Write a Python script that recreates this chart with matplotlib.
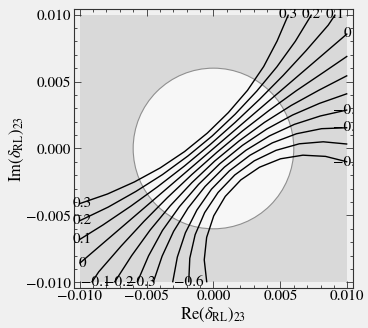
import matplotlib
matplotlib.use("Agg")
import matplotlib.pyplot as plt
from matplotlib.patches import Rectangle, Circle
from matplotlib.ticker import MultipleLocator, FuncFormatter
import matplotlib.transforms as mtransforms

# ---------------- data ----------------
levels = [0.3, 0.2, 0.1, 0.0, -0.1, -0.2, -0.3, -0.4, -0.5, -0.6, -0.7]

x_p03 = [-0.01000, -0.00792, -0.00591, -0.00398, -0.00216, -0.00046, 0.00111, 0.00254, 0.00375, 0.00475, 0.00560]
y_p03 = [-0.00412, -0.00340, -0.00250, -0.00145, -0.00023, 0.00115, 0.00268, 0.00434, 0.00612, 0.00802, 0.01000]
x_p02 = [-0.01000, -0.00787, -0.00580, -0.00381, -0.00191, -0.00009, 0.00162, 0.00323, 0.00473, 0.00611, 0.00733]
y_p02 = [-0.00540, -0.00438, -0.00321, -0.00195, -0.00056, 0.00094, 0.00256, 0.00428, 0.00609, 0.00800, 0.01000]
x_p01 = [-0.01000, -0.00827, -0.00618, -0.00415, -0.00217, -0.00025, 0.00162, 0.00344, 0.00520, 0.00691, 0.00857, 0.00910]
y_p01 = [-0.00680, -0.00572, -0.00431, -0.00284, -0.00131, 0.00029, 0.00195, 0.00367, 0.00545, 0.00730, 0.00921, 0.01000]
x_z00 = [-0.01000, 0.00000, 0.01000]
y_z00 = [-0.00858, 0.00000, 0.00858]
x_m01 = [-0.00910, -0.00857, -0.00691, -0.00520, -0.00344, -0.00162, 0.00025, 0.00217, 0.00415, 0.00618, 0.00827, 0.01000]
y_m01 = [-0.01000, -0.00921, -0.00730, -0.00545, -0.00367, -0.00195, -0.00029, 0.00131, 0.00284, 0.00431, 0.00572, 0.00690]
x_m02 = [-0.00740, -0.00611, -0.00473, -0.00323, -0.00162, 0.00009, 0.00191, 0.00381, 0.00580, 0.00787, 0.01000]
y_m02 = [-0.01000, -0.00800, -0.00609, -0.00428, -0.00256, -0.00094, 0.00056, 0.00195, 0.00321, 0.00435, 0.00545]
x_m03 = [-0.00570, -0.00485, -0.00381, -0.00254, -0.00111, 0.00046, 0.00216, 0.00398, 0.00591, 0.00792, 0.01000]
y_m03 = [-0.01000, -0.00802, -0.00612, -0.00434, -0.00268, -0.00115, 0.00023, 0.00145, 0.00250, 0.00337, 0.00410]
x_m04 = [-0.00450, -0.00384, -0.00298, -0.00190, -0.00063, 0.00082, 0.00243, 0.00418, 0.00604, 0.00799, 0.01000]
y_m04 = [-0.01000, -0.00805, -0.00619, -0.00445, -0.00284, -0.00139, -0.00013, 0.00094, 0.00180, 0.00243, 0.00288]
x_m05 = [-0.00305, -0.00270, -0.00210, -0.00124, -0.00015, 0.00119, 0.00272, 0.00440, 0.00620, 0.00808, 0.01000]
y_m05 = [-0.01000, -0.00811, -0.00630, -0.00460, -0.00304, -0.00167, -0.00051, 0.00042, 0.00110, 0.00148, 0.00155]
x_m06 = [-0.00185, -0.00177, -0.00137, -0.00066, 0.00034, 0.00159, 0.00305, 0.00467, 0.00641, 0.00820, 0.01000]
y_m06 = [-0.01000, -0.00820, -0.00644, -0.00479, -0.00329, -0.00198, -0.00092, -0.00014, 0.00035, 0.00050, 0.00033]
x_m07 = [-0.00050, -0.00069, -0.00051, 0.00002, 0.00088, 0.00204, 0.00344, 0.00501, 0.00668, 0.00837, 0.01000]
y_m07 = [-0.01000, -0.00832, -0.00664, -0.00503, -0.00358, -0.00235, -0.00140, -0.00077, -0.00050, -0.00059, -0.00100]

# which ends of each contour carry a value label ("start", "end")
label_ends = {0.3: ("start", "end"), 0.2: ("start", "end"), 0.1: ("start", "end"),
              0.0: ("start", "end"), -0.1: ("start",), -0.2: ("start",), -0.3: ("start",),
              -0.4: ("end",), -0.5: ("end",), -0.6: ("start",), -0.7: ("end",)}

region_half = 0.01        # shaded square
allowed_radius = 0.006    # white disk
major_ticks = [-0.010, -0.005, 0.000, 0.005, 0.010]

# ---------------- drawing ----------------
plt.rcParams['font.family'] = ['STIXGeneral', 'DejaVu Serif']
plt.rcParams['mathtext.fontset'] = 'stix'

curves = [(x_p03, y_p03), (x_p02, y_p02), (x_p01, y_p01), (x_z00, y_z00),
          (x_m01, y_m01), (x_m02, y_m02), (x_m03, y_m03), (x_m04, y_m04),
          (x_m05, y_m05), (x_m06, y_m06), (x_m07, y_m07)]

bg = '#f0f0f0'
fig = plt.figure(figsize=(3.68, 3.28), dpi=100, facecolor=bg)
ax = fig.add_axes([0.2011, 0.122, 0.758, 0.8506])
ax.set_facecolor(bg)

L = region_half
ax.add_patch(Rectangle((-L, -L), 2 * L, 2 * L, facecolor='#d9d9d9', edgecolor='none', zorder=1))
ax.add_patch(Circle((0, 0), allowed_radius, facecolor='#f7f7f7', edgecolor='#8f8f8f', lw=0.8, zorder=2))

def fmt_level(v):
    if abs(v) < 1e-12:
        return "0"
    return ("%.1f" % v).replace("-", "\u2212")

for lev, (xs, ys) in zip(levels, curves):
    ax.plot(xs, ys, color='black', lw=1.0, zorder=3, solid_capstyle='butt')
    for end in label_ends[lev]:
        i = 0 if end == "start" else -1
        # small pixel nudges, as in the reference label placement
        dx = 0
        clip = True
        if xs[i] <= -L + 1e-9:
            dx = 3
            clip = False
        elif ys[i] <= -L + 1e-9 and lev > -0.35:
            dx = 4
        tr = ax.transData + mtransforms.ScaledTranslation(dx / 100, 0, fig.dpi_scale_trans)
        t = ax.text(xs[i], ys[i], fmt_level(lev), ha='center', va='center',
                    fontsize=11, color='black', zorder=4, transform=tr)
        if clip:
            t.set_clip_on(True)
            t.set_clip_path(ax.patch)

pad = 0.00042
ax.set_xlim(-L - pad, L + pad)
ax.set_ylim(-L - pad, L + pad)
ax.set_xticks(major_ticks)
ax.set_yticks(major_ticks)
ax.xaxis.set_minor_locator(MultipleLocator(0.001))
ax.yaxis.set_minor_locator(MultipleLocator(0.001))

def tickfmt(v, pos):
    if abs(v) < 1e-12:
        return "0.000"
    return ("%.3f" % v).replace("-", "\u2212")

ax.xaxis.set_major_formatter(FuncFormatter(tickfmt))
ax.yaxis.set_major_formatter(FuncFormatter(tickfmt))
ax.tick_params(which='both', direction='in', top=True, right=True, labelsize=11,
               color='#333333', width=0.6)
ax.tick_params(which='major', length=5)
ax.tick_params(axis='x', which='major', pad=1.5)
ax.tick_params(axis='y', which='major', pad=2)
ax.tick_params(which='minor', length=2.5)
for sp in ax.spines.values():
    sp.set_linewidth(0.8)
    sp.set_color('#333333')

ax.set_xlabel(r'Re$(\delta_{\rm RL})_{23}$', fontsize=12, labelpad=2)
ax.set_ylabel(r'Im$(\delta_{\rm RL})_{23}$', fontsize=12, labelpad=0)

fig.savefig("out.png", dpi=100, facecolor=bg)
